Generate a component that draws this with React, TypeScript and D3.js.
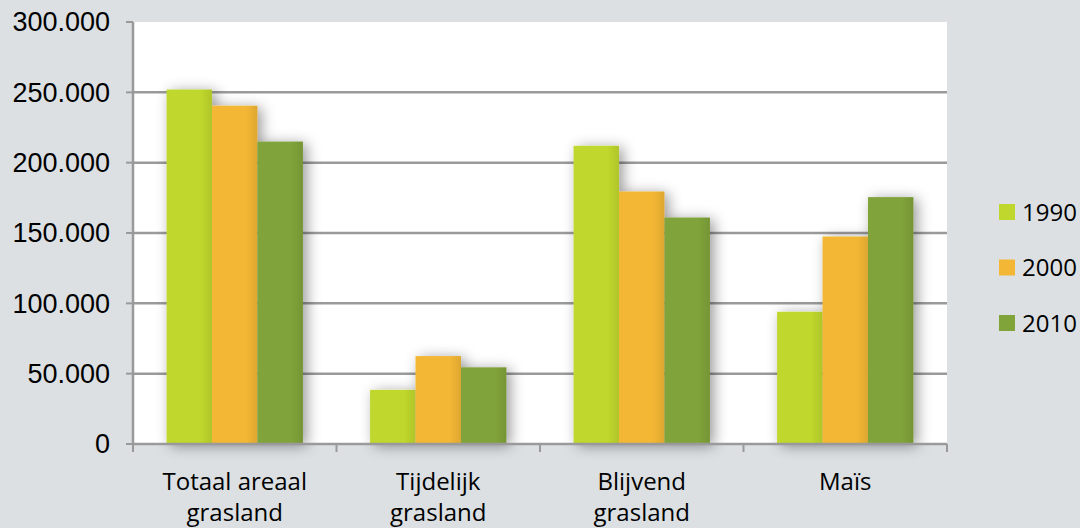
import React from 'react';
import * as d3 from 'd3';

const categories = [['Totaal areaal', 'grasland'], ['Tijdelijk', 'grasland'], ['Blijvend', 'grasland'], ['Maïs']];
const years = ['1990', '2000', '2010'];
const v1990 = [252000, 38500, 212000, 94000];
const v2000 = [240500, 62500, 179500, 147500];
const v2010 = [215000, 54500, 161000, 175500];
const yTicks = [0, 50000, 100000, 150000, 200000, 250000, 300000];
const colors = ['#c0d72d', '#f3b735', '#80a33a'];

const W = 1080, H = 528;
const m = { left: 133, right: 133, top: 22, bottom: 84 };

export default function App() {
  const series = [v1990, v2000, v2010];
  const x = d3.scaleBand().domain(d3.range(categories.length).map(String))
    .range([m.left, W - m.right]).paddingInner(0.33).paddingOuter(0.165);
  const cat = d3.scaleBand().domain(d3.range(categories.length).map(String)).range([m.left, W - m.right]);
  const xs = d3.scaleBand().domain(years).range([0, x.bandwidth()]);
  const y = d3.scaleLinear().domain([0, 300000]).range([H - m.bottom, m.top]);
  const fmt = (v: number) => d3.format(',')(v).replace(/,/g, '.');
  const x1 = W - m.right;

  return (
    <svg width={W} height={H} style={{ position: 'absolute', left: 0, top: 0, background: '#dce0e3' }}>
      <defs>
        <filter id="sh" x="-40%" y="-20%" width="180%" height="140%">
          <feDropShadow dx="4" dy="2" stdDeviation="7" floodColor="#000" floodOpacity="0.4" />
        </filter>
        {colors.map((c, i) => (
          <linearGradient key={i} id={'g' + i} x1="0" x2="1" y1="0" y2="0">
            <stop offset="0" stopColor={c} />
            <stop offset="0.75" stopColor={c} />
            <stop offset="1" stopColor={d3.color(c)!.darker(0.25).toString()} />
          </linearGradient>
        ))}
      </defs>
      <rect x={m.left} y={m.top} width={x1 - m.left} height={H - m.bottom - m.top} fill="#fff" />
      {yTicks.slice(1, -1).map(t => (
        <line key={t} x1={m.left} x2={x1} y1={y(t)} y2={y(t)} stroke="#9a9a9a" strokeWidth={2.5} />
      ))}
      {categories.map((c, ci) => (
        <g key={ci} filter="url(#sh)">
          {years.map((yr, si) => (
            <rect key={yr} x={x(String(ci))! + xs(yr)!} y={y(series[si][ci])}
              width={xs.bandwidth()} height={y(0) - y(series[si][ci])} fill={`url(#g${si})`} />
          ))}
        </g>
      ))}
      <line x1={m.left} x2={m.left} y1={m.top} y2={y(0)} stroke="#9a9a9a" strokeWidth={2.5} />
      <line x1={m.left} x2={x1} y1={y(0)} y2={y(0)} stroke="#9a9a9a" strokeWidth={2.5} />
      {yTicks.map(t => (
        <g key={t}>
          <line x1={m.left - 7} x2={m.left} y1={y(t)} y2={y(t)} stroke="#9a9a9a" strokeWidth={2} />
          <text x={m.left - 23} y={y(t)} dy="0.35em" textAnchor="end" fontSize={27}
            fontFamily="Liberation Sans, Arial, sans-serif" fill="#000">{fmt(t)}</text>
        </g>
      ))}
      {d3.range(categories.length + 1).map(i => {
        const px = i < categories.length ? cat(String(i))! : x1;
        return <line key={i} x1={px} x2={px} y1={y(0)} y2={y(0) + 8} stroke="#9a9a9a" strokeWidth={2} />;
      })}
      {categories.map((c, ci) => (
        <text key={ci} x={cat(String(ci))! + cat.bandwidth() / 2} y={490} textAnchor="middle" fontSize={24}
          fontFamily="Open Sans, Noto Sans, sans-serif" fill="#000">
          {c.map((l, li) => <tspan key={li} x={cat(String(ci))! + cat.bandwidth() / 2} dy={li ? 31 : 0}>{l}</tspan>)}
        </text>
      ))}
      {years.map((yr, i) => (
        <g key={yr} transform={`translate(999,${204 + i * 55.5})`}>
          <rect width={16} height={16} fill={colors[i]} />
          <text x={23} y={8} dy="0.36em" fontSize={24} fontFamily="Open Sans, Noto Sans, sans-serif" fill="#000">{yr}</text>
        </g>
      ))}
    </svg>
  );
}
